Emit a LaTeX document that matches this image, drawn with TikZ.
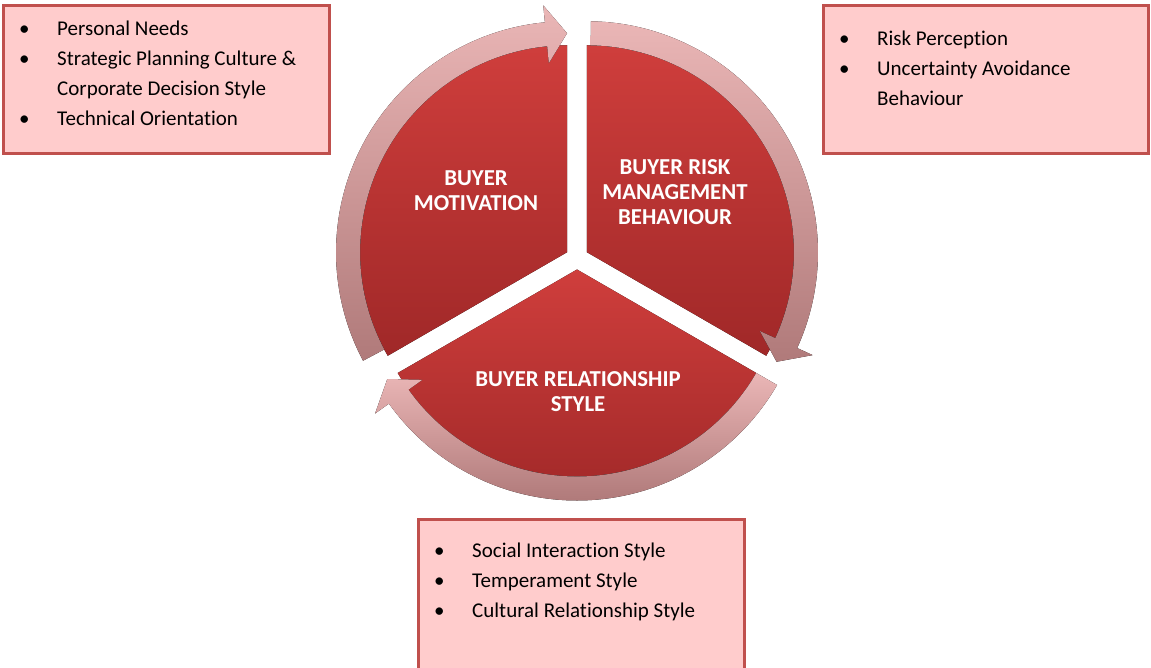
\documentclass[tikz,border=0pt]{standalone}
\usepackage{fontspec}
\setmainfont{Carlito}[Ligatures=NoCommon]
\usetikzlibrary{calc}

\definecolor{boxfill}{RGB}{255,204,204}
\definecolor{boxline}{RGB}{192,80,77}
\definecolor{pietop}{RGB}{207,62,60}
\definecolor{piebot}{RGB}{160,40,40}
\definecolor{ringtop}{RGB}{234,182,182}
\definecolor{ringbot}{RGB}{176,122,122}

% bullet line and continuation line of a list
\newcommand{\bitem}[1]{\makebox[38pt][l]{\textbullet}#1}
\newcommand{\bcont}{\hspace*{38pt}}

% one sector of the pie: centre, start angle, end angle
\newcommand{\piesector}[3]{%
	\fill[sector] (#1) -- ($(#1)+(#2:207)$) arc[start angle=#2, end angle=#3, radius=207] -- cycle;}

% curved arrow round a sector: centre, tail angle, tip angle (clockwise)
\newcommand{\ringarrow}[3]{%
	\pgfmathsetmacro{\headang}{#3+5.5}
	\fill[ring] ($(#1)+(#2:231)$) arc[start angle=#2, end angle=\headang, radius=231]
		-- ($(#1)+(\headang:248)$) -- ($(#1)+(#3:219)$) -- ($(#1)+(\headang:190)$)
		-- ($(#1)+(\headang:207)$) arc[start angle=\headang, end angle=#2, radius=207] -- cycle;}

\tikzset{
	sector/.style={top color=pietop, bottom color=piebot},
	ring/.style={top color=ringtop, bottom color=ringbot},
	infobox/.style={draw=boxline, fill=boxfill, line width=3pt},
	pielabel/.style={text=white, align=center, font=\bfseries\fontsize{22.8}{25}\selectfont},
	listtext/.style={anchor=base west, inner sep=0pt, font=\fontsize{21}{30}\selectfont}
}

\begin{document}
\begin{tikzpicture}[x=1pt, y=1pt]
	\useasboundingbox (0,0) rectangle (1151,-668);

	% centres of the three pieces
	\coordinate (pie) at (577,-258);
	\coordinate (motivc) at ($(pie)+(150:11.5)$);
	\coordinate (riskc) at ($(pie)+(30:11.5)$);
	\coordinate (relc) at ($(pie)+(270:11.5)$);

	\piesector{motivc}{90}{210}
	\piesector{riskc}{-30}{90}
	\piesector{relc}{210}{330}

	\ringarrow{motivc}{208}{90}
	\ringarrow{riskc}{89}{-30}
	\ringarrow{relc}{-30}{-150}

	\node[pielabel] (motivlabel) at (476,-191) {BUYER\\MOTIVATION};
	\node[pielabel] (risklabel) at (675,-192) {BUYER RISK\\MANAGEMENT\\BEHAVIOUR};
	\node[pielabel] (rellabel) at (578,-392) {BUYER RELATIONSHIP\\STYLE};

	% lists beside the pie
	\draw[infobox] (3,-5.5) rectangle (329.5,-153.5);
	\node[listtext] (motivlist) at (19,-35.5) {\parbox[t]{305pt}{%
		\bitem{Personal Needs}\\
		\bitem{Strategic Planning Culture \&}\\
		\bcont Corporate Decision Style\\
		\bitem{Technical Orientation}}};

	\draw[infobox] (823.5,-5.5) rectangle (1148.5,-153.5);
	\node[listtext] (risklist) at (839,-45.5) {\parbox[t]{305pt}{%
		\bitem{Risk Perception}\\
		\bitem{Uncertainty Avoidance}\\
		\bcont Behaviour}};

	\draw[infobox] (418,-519) rectangle (744,-680);
	\node[listtext] (rellist) at (434,-557.5) {\parbox[t]{305pt}{%
		\bitem{Social Interaction Style}\\
		\bitem{Temperament Style}\\
		\bitem{Cultural Relationship Style}}};
\end{tikzpicture}
\end{document}
